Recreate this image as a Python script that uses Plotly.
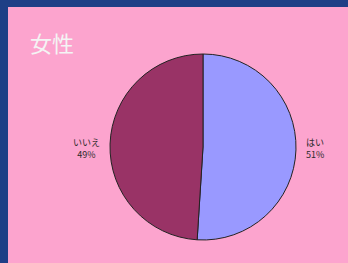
import plotly.graph_objects as go

W, H = 348, 263

title = "女性"
labels = ["はい", "いいえ"]
values = [51, 49]
colors = ["#9999FF", "#993366"]

# pie geometry in pixels
cx, cy, r = 203, 147, 93

fig = go.Figure()
fig.add_trace(go.Pie(
    labels=labels, values=values, sort=False, direction="clockwise", rotation=0,
    marker=dict(colors=colors, line=dict(color="#222222", width=1)),
    textinfo="none", hoverinfo="label+percent", showlegend=False,
    domain=dict(x=[(cx - r) / W, (cx + r) / W], y=[(H - cy - r) / H, (H - cy + r) / H]),
))

def px(x):
    return x / W

def py(y):
    return 1 - y / H

total = sum(values)
label_pos = [(304, 148, "left"), (86, 148, "center")]
annots = []
for (lab, v), (x, y, al) in zip(zip(labels, values), label_pos):
    annots.append(dict(
        x=px(x), y=py(y), xref="paper", yref="paper", xanchor=al,
        yanchor="middle", showarrow=False, align=al,
        text=f"{lab}<br>{round(v / total * 100)}%",
        font=dict(size=9, color="#2A2A2A", family="Noto Sans CJK JP"),
    ))
annots.append(dict(
    x=px(28), y=py(42), xref="paper", yref="paper", xanchor="left", yanchor="middle",
    showarrow=False, text=title,
    font=dict(size=22, color="#F4F4F4", family="Noto Sans CJK JP"),
))

fig.update_layout(
    width=W, height=H, margin=dict(l=0, r=0, t=0, b=0),
    paper_bgcolor="#1E3F86", plot_bgcolor="#1E3F86",
    annotations=annots,
    shapes=[dict(type="rect", xref="paper", yref="paper", x0=px(8), x1=1.0, y0=0, y1=py(7),
                 fillcolor="#FCA4CE", line=dict(width=0), layer="below")],
)

fig.write_html("out.html", config={"displayModeBar": False},
               post_script="document.body.style.margin='0';document.body.style.padding='0';")
